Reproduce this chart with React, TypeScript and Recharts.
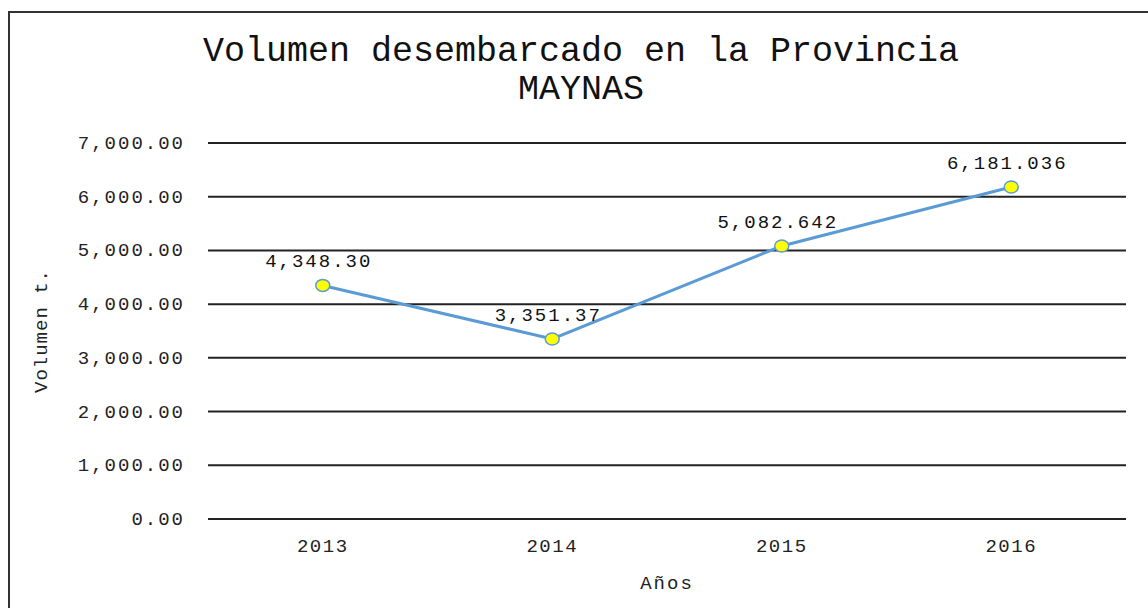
import React from "react";
import { LineChart, Line, XAxis, YAxis, CartesianGrid, LabelList, Label } from "recharts";

const years = ["2013", "2014", "2015", "2016"];
const volumes = [4348.3, 3351.37, 5082.642, 6181.036];
const valueLabels = ["4,348.30", "3,351.37", "5,082.642", "6,181.036"];
const yTicks = [0, 1000, 2000, 3000, 4000, 5000, 6000, 7000];

const data = years.map((y, i) => ({ year: y, vol: volumes[i], lbl: valueLabels[i] }));

const FONT = "'Liberation Mono', 'DejaVu Sans Mono', monospace";

const fmt = (v: number) =>
  v.toLocaleString("en-US", { minimumFractionDigits: 2, maximumFractionDigits: 2 });

const YTick = (props: any) => {
  const { x, y, payload } = props;
  return (
    <text x={x} y={y} dy={6} textAnchor="end" fontFamily={FONT} fontSize={19} letterSpacing={2} fill="#222">
      {fmt(payload.value)}
    </text>
  );
};

const XTick = (props: any) => {
  const { x, y, payload } = props;
  return (
    <text x={x} y={y} dy={25} textAnchor="middle" fontFamily={FONT} fontSize={19} letterSpacing={1.5} fill="#222">
      {payload.value}
    </text>
  );
};

const Dot = (props: any) => {
  const { cx, cy } = props;
  if (cx == null || cy == null) return null;
  return <ellipse cx={cx} cy={cy} rx={7} ry={6} fill="#FFFF00" stroke="#5B9BD5" strokeWidth={1.5} />;
};

const ValLabel = (props: any) => {
  const { x, y, value } = props;
  return (
    <text x={x - 4} y={y - 18} textAnchor="middle" fontFamily={FONT} fontSize={19} letterSpacing={2} fill="#111">
      {value}
    </text>
  );
};

export default function App() {
  return (
    <div style={{ position: "absolute", left: 0, top: 0, width: 1148, height: 608, overflow: "hidden", background: "#fff" }}>
      <div
        style={{
          position: "absolute",
          left: 8,
          top: 11,
          width: 1200,
          height: 700,
          border: "2px solid #333",
          boxSizing: "border-box",
        }}
      />
      <div
        style={{
          position: "absolute",
          left: 0,
          top: 33,
          width: 1162,
          textAlign: "center",
          fontFamily: FONT,
          fontSize: 35,
          lineHeight: "38px",
          color: "#111",
        }}
      >
        Volumen desembarcado en la Provincia
        <br />
        MAYNAS
      </div>
      <div style={{ position: "absolute", left: 0, top: 0 }}>
        <LineChart width={1148} height={608} data={data} margin={{ top: 143, right: 22, bottom: 0, left: 8 }}>
          <CartesianGrid vertical={false} stroke="#222" strokeWidth={2} />
          <XAxis
            dataKey="year"
            scale="band"
            axisLine={false}
            tickLine={false}
            height={89}
            tick={<XTick />}
            interval={0}
          >
            <Label
              value="Años"
              position="insideBottom"
              offset={19}
              style={{ fontFamily: FONT, fontSize: 19, letterSpacing: 2, fill: "#222" }}
            />
          </XAxis>
          <YAxis
            domain={[0, 7000]}
            ticks={yTicks}
            width={200}
            axisLine={false}
            tickLine={false}
            tickSize={0}
            tickMargin={23}
            tick={<YTick />}
            interval={0}
          >
            <Label
              value="Volumen t."
              angle={-90}
              position="insideLeft"
              offset={32}
              style={{ fontFamily: FONT, fontSize: 19, letterSpacing: 1, fill: "#222", textAnchor: "middle" }}
            />
          </YAxis>
          <Line
            type="linear"
            dataKey="vol"
            stroke="#5B9BD5"
            strokeWidth={3}
            dot={<Dot />}
            activeDot={false}
            isAnimationActive={false}
          >
            <LabelList dataKey="lbl" content={<ValLabel />} />
          </Line>
        </LineChart>
      </div>
    </div>
  );
}
